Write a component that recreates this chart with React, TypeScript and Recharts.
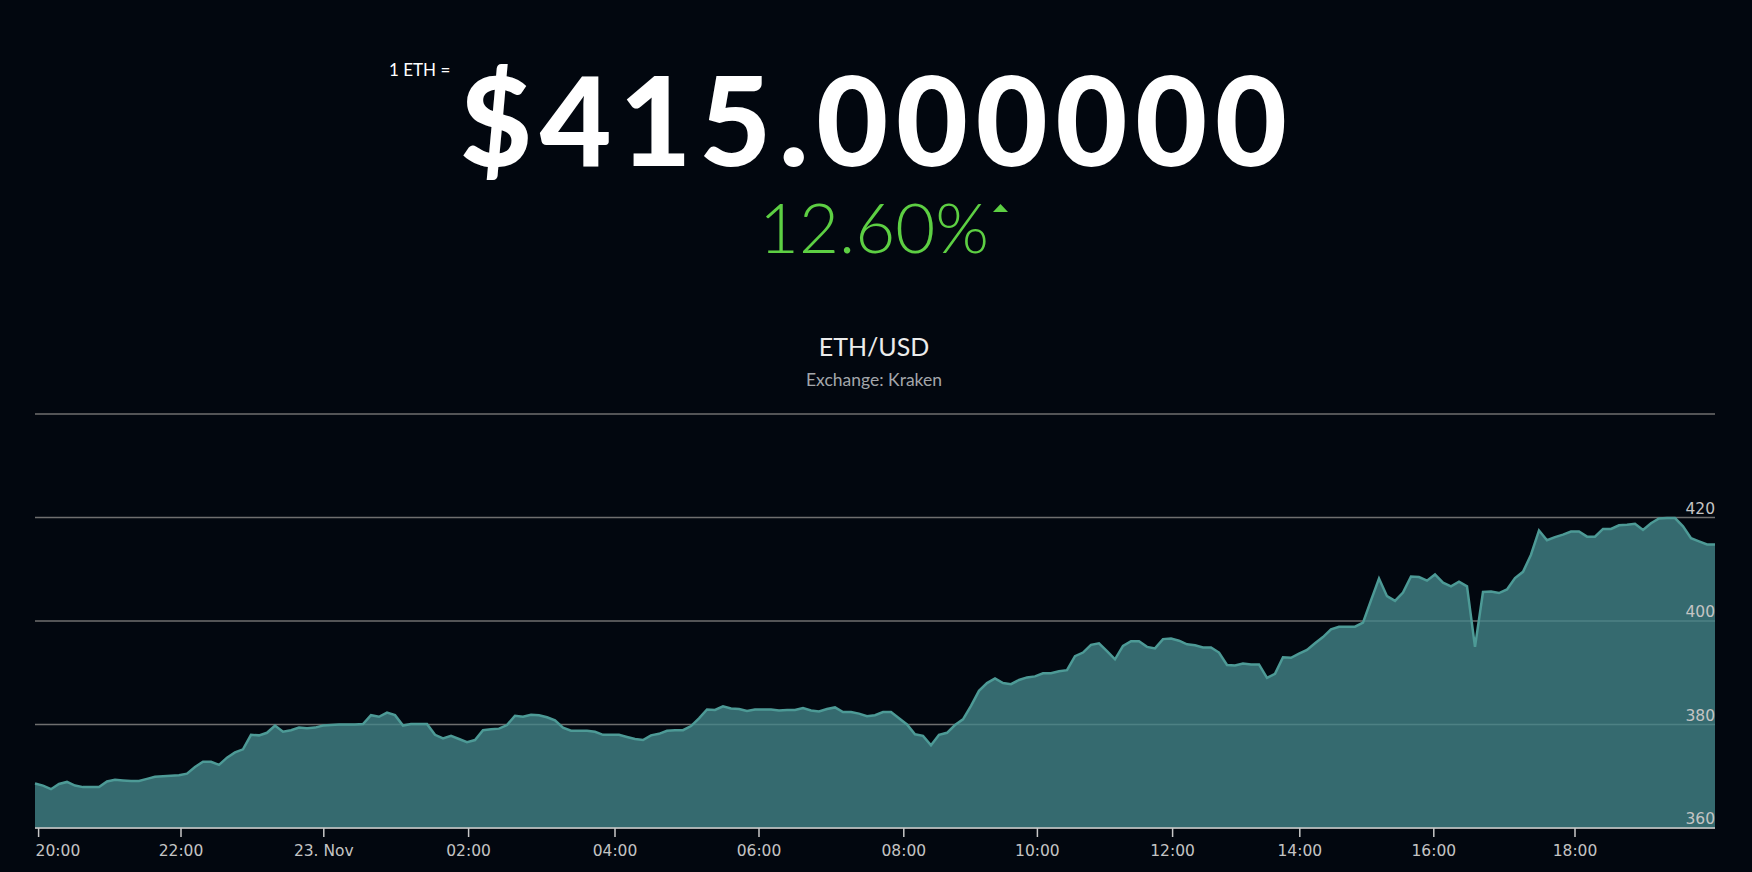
import { AreaChart, Area, XAxis, YAxis, CartesianGrid } from "recharts";

// ETH/USD last ~24h, one value per evenly spaced (ordinal) slot
const prices = [
  368.6, 368.2, 367.5, 368.5, 368.9, 368.2, 367.9, 367.9, 367.9, 369.0,
  369.3, 369.2, 369.1, 369.1, 369.5, 369.9, 370.0, 370.1, 370.2, 370.5,
  371.8, 372.8, 372.8, 372.2, 373.6, 374.6, 375.2, 378.0, 377.9, 378.4,
  379.8, 378.6, 378.9, 379.4, 379.3, 379.4, 379.8, 379.9, 380.0, 380.0,
  380.0, 380.1, 381.8, 381.5, 382.3, 381.8, 379.8, 380.1, 380.1, 380.1,
  378.0, 377.3, 377.8, 377.2, 376.6, 377.0, 378.9, 379.1, 379.2, 379.9,
  381.7, 381.5, 381.9, 381.8, 381.4, 380.8, 379.4, 378.8, 378.8, 378.8,
  378.6, 378.0, 378.0, 378.0, 377.6, 377.2, 377.0, 377.9, 378.2, 378.8,
  378.9, 378.9, 379.7, 381.2, 382.9, 382.8, 383.5, 383.1, 383.0, 382.6,
  382.9, 382.9, 382.9, 382.7, 382.8, 382.8, 383.2, 382.7, 382.5, 383.0,
  383.3, 382.4, 382.4, 382.1, 381.6, 381.8, 382.4, 382.4, 381.2, 380.0,
  378.1, 377.8, 376.0, 378.0, 378.4, 379.9, 381.0, 383.6, 386.5, 388.0,
  388.9, 388.0, 387.8, 388.6, 389.1, 389.3, 389.9, 389.9, 390.3, 390.5,
  393.2, 393.9, 395.4, 395.7, 394.2, 392.6, 395.2, 396.1, 396.1, 395.0,
  394.7, 396.5, 396.6, 396.2, 395.5, 395.3, 394.9, 394.9, 393.9, 391.5,
  391.4, 391.8, 391.6, 391.6, 389.0, 389.8, 393.0, 392.9, 393.7, 394.4,
  395.7, 396.9, 398.4, 398.9, 398.9, 398.9, 399.7, 404.0, 408.2, 404.8,
  403.9, 405.5, 408.6, 408.5, 407.8, 409.0, 407.4, 406.7, 407.6, 406.7,
  395.0, 405.6, 405.7, 405.4, 406.1, 408.3, 409.5, 412.8, 417.5, 415.6,
  416.2, 416.7, 417.3, 417.3, 416.3, 416.3, 417.8, 417.8, 418.5, 418.6,
  418.8, 417.6, 418.9, 419.8, 419.9, 419.9, 418.3, 416.0, 415.4, 414.8, 414.8,
];

// ordinal axis: time labels sit at fractional slot positions
const tickSlots = [0.45, 18.25, 36.1, 54.2, 72.5, 90.5, 108.6, 125.3, 142.2, 158.1, 174.85, 192.5];
const tickLabels = ["20:00", "22:00", "23. Nov", "02:00", "04:00", "06:00", "08:00", "10:00", "12:00", "14:00", "16:00", "18:00"];
const priceTicks = [360, 380, 400, 420, 440];

const unitLabel = "1 ETH =";
const priceLabel = "$415.000000";
const changeLabel = "12.60%";
const pairLabel = "ETH/USD";
const exchangeLabel = "Exchange: Kraken";

const data = prices.map((price, idx) => ({ idx, price }));

const BG = "#02070f";
const GREEN = "#5dcf43";
const axisFont = "'DejaVu Sans', sans-serif";
const headFont = "Lato, 'Open Sans', sans-serif";

function XTick(props: any) {
  const { x, y, payload } = props;
  const i = tickSlots.indexOf(payload.value);
  const first = i === 0;
  return (
    <text x={first ? x - 3 : x} y={y + 19} textAnchor={first ? "start" : "middle"}
      fill="#c4c4c4" fontSize={15.5} fontFamily={axisFont}>
      {tickLabels[i]}
    </text>
  );
}

function YTick(props: any) {
  const { x, y, payload } = props;
  if (payload.value === 440) return <g />;
  return (
    <text x={x} y={y - 4} textAnchor="end" fill="#c4c4c4" fontSize={15.5} fontFamily={axisFont}>
      {payload.value}
    </text>
  );
}

export default function App() {
  return (
    <div style={{ position: "fixed", left: 0, top: 0, width: 1752, height: 872, background: BG, overflow: "hidden" }}>
      <div style={{ position: "absolute", left: 0, top: 0 }}>
        <AreaChart width={1752} height={872} data={data} margin={{ top: 414, right: 37, bottom: 14, left: 35 }}>
          <CartesianGrid vertical={false} stroke="#6f6f6f" strokeWidth={1.5} />
          <XAxis type="number" dataKey="idx" domain={[0, prices.length - 1]} ticks={tickSlots}
            height={30} tick={<XTick />} tickSize={9} tickMargin={0}
            axisLine={{ stroke: "#c8c8c8", strokeWidth: 1.5 }} tickLine={{ stroke: "#c8c8c8", strokeWidth: 1.5 }} />
          <YAxis orientation="right" mirror domain={[360, 440]} ticks={priceTicks} tick={<YTick />}
            tickSize={0} tickMargin={0} axisLine={false} tickLine={false} />
          <Area type="linear" dataKey="price" stroke="#4d9a96" strokeWidth={2.5}
            fill="#44878a" fillOpacity={0.78} dot={false} activeDot={false} isAnimationActive={false} />
        </AreaChart>
      </div>
      <svg width={1752} height={872} style={{ position: "absolute", left: 0, top: 0, pointerEvents: "none" }}>
        <text x={389} y={76} fill="#ffffff" fontSize={17} fontFamily={headFont}>{unitLabel}</text>
        <text x={460} y={166} textLength={827} lengthAdjust="spacing" fill="#ffffff" fontSize={124}
          fontWeight={900} fontFamily={headFont}>{priceLabel}</text>
        <text x={874} y={253} textAnchor="middle" fill={GREEN} fontSize={69} fontWeight={300}
          fontFamily={headFont}>{changeLabel}</text>
        <polygon points="993,212 1000.5,204 1008,212" fill={GREEN} />
        <text x={874} y={356} textAnchor="middle" fill="#ececec" fontSize={25} fontFamily={headFont}>{pairLabel}</text>
        <text x={874} y={386} textAnchor="middle" fill="#a3a6aa" fontSize={17.5} fontFamily={headFont}>{exchangeLabel}</text>
      </svg>
    </div>
  );
}
